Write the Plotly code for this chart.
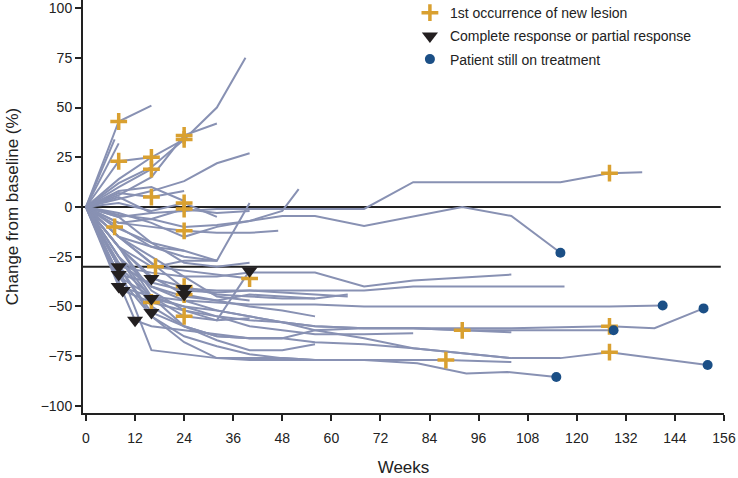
import plotly.graph_objects as go

# ---- patient trajectories: weeks and % change from baseline ----
p01_w = [0, 8, 16];                      p01_v = [0, 43, 51]
p02_w = [0, 8, 16, 24, 32, 39];          p02_v = [0, 12, 20, 34, 50, 75]
p03_w = [0, 8, 16, 24, 32];              p03_v = [0, 6, 15, 36, 42]
p04_w = [0, 8, 16, 24, 32, 40];          p04_v = [0, 4, 8, 13, 22, 27]
p05_w = [0, 7];                          p05_v = [0, 34]
p06_w = [0, 8];                          p06_v = [0, 32]
p07_w = [0, 8, 16, 24];                  p07_v = [0, 23, 25, 34]
p08_w = [0, 8, 16];                      p08_v = [0, 14, 25]
p09_w = [0, 8, 16];                      p09_v = [0, 10, 19]
p10_w = [0, 8, 16, 24];                  p10_v = [0, 7, 5, 8]
p11_w = [0, 8, 16, 24, 32, 40];          p11_v = [0, -4, -6, -1, -3, -2]
p12_w = [0, 8, 16, 24, 32];              p12_v = [0, 2, -2, 2, -5]
p13_w = [0, 8, 16, 24, 32, 40, 47];      p13_v = [0, -8, -10, -12, -13, -13, -12]
p14_w = [0, 7, 16, 24];                  p14_v = [0, -10, -18, -22]
p15_w = [0, 8, 16, 24, 32, 40, 48, 56, 68, 80, 116, 128, 136]
p15_v = [0, -5, -3, -2, -1, -1, -1, -1, -1, 12.5, 12.5, 17, 17.5]
p16_w = [0, 8, 16, 24, 32, 40, 48, 56, 68, 92, 104, 116]
p16_v = [0, -8, -6, -10, -9, -7, -4.5, -4.5, -9.5, 0, -4.5, -23]
p17_w = [0, 8, 16, 24, 32, 40, 48, 52];  p17_v = [0, -3, -8, -15, -10, -7, -2, 9]
p18_w = [0, 8, 16, 24, 32, 40];          p18_v = [0, -10, -20, -22, -27, 2]
p19_w = [0, 8, 16, 24, 32];              p19_v = [0, -15, -20, -25, -27]
p20_w = [0, 8, 16, 24, 32, 40];          p20_v = [0, -5, -18, -28, -30, -28]
p21_w = [0, 8, 16, 24, 32, 40, 48, 56, 68, 80, 104]
p21_v = [0, -30, -33, -35, -35, -33, -33, -33, -40, -37, -34]
p22_w = [0, 8, 16, 24, 32, 40, 56, 68, 80, 104, 117]
p22_v = [0, -34, -38, -42, -43, -42, -42, -42, -40, -40, -40]
p23_w = [0, 8, 16, 24, 32, 40, 56, 68, 80, 104, 128, 141]
p23_v = [0, -40, -45, -47, -48, -49, -49, -50, -50, -50, -50, -49.5]
p24_w = [0, 9, 16, 24, 32, 40, 48, 56, 68, 80, 104, 128, 139, 151]
p24_v = [0, -42, -48, -52, -55, -57, -58, -60, -61, -61, -61, -60, -61, -51]
p25_w = [0, 12, 16, 24, 32, 40, 48, 56, 68, 80, 92, 104, 116, 129]
p25_v = [0, -57, -60, -62, -64, -66, -66, -62, -61, -61, -62, -62, -62, -62]
p26_w = [0, 8, 16, 24, 32, 40, 48, 56];  p26_v = [0, -20, -36, -40, -44, -45, -46, -46]
p27_w = [0, 8, 16, 24, 32, 40, 48, 56, 68, 80]
p27_v = [0, -25, -46, -50, -55, -60, -62, -64, -64, -63.5]
p28_w = [0, 8, 16, 24, 32, 40, 48, 56, 68, 80, 104, 116, 128, 152]
p28_v = [0, -30, -53, -60, -65, -66, -66, -68, -69, -71, -76, -76, -73, -79.5]
p29_w = [0, 8, 16, 24, 32, 40, 48, 56, 64]
p29_v = [0, -15, -28, -41, -42, -42, -43, -44, -45]
p30_w = [0, 8, 16, 24, 32, 40, 48, 56]; p30_v = [0, -20, -35, -44, -47, -50, -52, -55]
p31_w = [0, 8, 16, 24, 32, 40];          p31_v = [0, -20, -42, -52, -57, -32]
p32_w = [0, 8, 17, 24, 32];              p32_v = [0, -15, -30, -27, -27]
p33_w = [0, 8, 16, 24, 32, 40];          p33_v = [0, -20, -30, -32, -34, -36]
p34_w = [0, 8, 16, 24, 32, 40];          p34_v = [0, -30, -45, -55, -57, -56]
p35_w = [0, 8, 16, 24, 32, 40, 48, 56, 68, 80, 92, 104]
p35_v = [0, -35, -45, -50, -52, -55, -58, -60, -61, -61, -62, -63]
p36_w = [0, 8, 16, 24, 32, 40, 48, 56, 68, 80, 88, 104]
p36_v = [0, -30, -55, -65, -70, -74, -76, -77, -77, -77, -77, -78]
p37_w = [0, 8, 16, 24, 32, 40, 48, 56, 68, 81, 93, 103, 115]
p37_v = [0, -35, -55, -68, -76, -77, -77, -77, -77, -78.6, -83.7, -83, -85.5]
p38_w = [0, 8, 16, 24, 32, 40, 48, 56, 64]
p38_v = [0, -25, -40, -45, -47, -44, -45, -46, -44]
p39_w = [0, 8, 16, 24, 32, 40, 48];      p39_v = [0, -20, -45, -60, -65, -66, -66]
p40_w = [0, 8, 16, 24, 32, 40, 48, 56, 64]
p40_v = [0, -30, -72, -74, -76, -76, -76, -77, -77]
p41_w = [0, 8, 16, 24, 32, 40, 48, 56];  p41_v = [0, -25, -50, -60, -67, -72, -72, -69]
p42_w = [0, 8, 16, 24, 32, 40, 48, 56, 68, 80, 104]
p42_v = [0, -28, -40, -47, -52, -55, -58, -62, -66, -71, -76]
p43_w = [0, 8, 16, 24, 32, 40];          p43_v = [0, -15, -25, -35, -45, -47]
p44_w = [0, 8, 16];                      p44_v = [0, 5, -3]
p45_w = [0, 8, 16, 24];                  p45_v = [0, 8, 10, 3]

patients = [
    (p01_w, p01_v), (p02_w, p02_v), (p03_w, p03_v), (p04_w, p04_v), (p05_w, p05_v),
    (p06_w, p06_v), (p07_w, p07_v), (p08_w, p08_v), (p09_w, p09_v), (p10_w, p10_v),
    (p11_w, p11_v), (p12_w, p12_v), (p13_w, p13_v), (p14_w, p14_v), (p15_w, p15_v),
    (p16_w, p16_v), (p17_w, p17_v), (p18_w, p18_v), (p19_w, p19_v), (p20_w, p20_v),
    (p21_w, p21_v), (p22_w, p22_v), (p23_w, p23_v), (p24_w, p24_v), (p25_w, p25_v),
    (p26_w, p26_v), (p27_w, p27_v), (p28_w, p28_v), (p29_w, p29_v), (p30_w, p30_v),
    (p31_w, p31_v), (p32_w, p32_v), (p33_w, p33_v), (p34_w, p34_v), (p35_w, p35_v),
    (p36_w, p36_v), (p37_w, p37_v), (p38_w, p38_v), (p39_w, p39_v), (p40_w, p40_v),
    (p41_w, p41_v), (p42_w, p42_v), (p43_w, p43_v), (p44_w, p44_v), (p45_w, p45_v),
]

# ---- event markers ----
lesion_weeks = [8, 24, 24, 8, 16, 16, 16, 24, 24, 24, 7, 128, 17, 40, 16, 24, 24, 24, 92, 88, 128, 128]
lesion_chg   = [43, 34, 36, 23, 25, 19, 5, -1, 2, -12, -10, 17, -30, -36, -48, -40, -44, -55, -62, -77, -60, -73]
response_weeks = [8, 8, 8, 9, 12, 16, 16, 16, 24, 24, 40]
response_chg   = [-30, -34, -40, -42, -57, -36, -46, -53, -41, -44, -32]
ontx_weeks = [116, 141, 151, 129, 152, 115]
ontx_chg   = [-23, -49.5, -51, -62, -79.5, -85.5]

x_ticks = list(range(0, 157, 12))
y_ticks = [-100, -75, -50, -25, 0, 25, 50, 75, 100]
ref_lines = [0, -30]

LINE_C = "#8891B3"
ORANGE = "#D9A030"
BLACK = "#231F20"
BLUE = "#1B4F86"
FONT = "Liberation Sans, Arial, sans-serif"

fig = go.Figure()
for w, v in patients:
    fig.add_trace(go.Scatter(x=w, y=v, mode="lines", line=dict(color=LINE_C, width=2),
                             showlegend=False, hoverinfo="skip"))

fig.add_trace(go.Scatter(x=lesion_weeks, y=lesion_chg, mode="markers", legendgroup="a",
                         marker=dict(symbol="cross-thin", size=12, line=dict(color=ORANGE, width=3.5)),
                         name="1st occurrence of new lesion"))
fig.add_trace(go.Scatter(x=response_weeks, y=response_chg, mode="markers", legendgroup="b",
                         marker=dict(symbol="triangle-down", size=14, color=BLACK),
                         name="Complete response or partial response"))
fig.add_trace(go.Scatter(x=ontx_weeks, y=ontx_chg, mode="markers", legendgroup="c",
                         marker=dict(symbol="circle", size=10, color=BLUE),
                         name="Patient still on treatment"))

for r in ref_lines:
    fig.add_shape(type="line", xref="paper", yref="y", x0=0, x1=0.995, y0=r, y1=r,
                  line=dict(color="#222222", width=2), layer="below")

fig.update_layout(
    width=738, height=478,
    margin=dict(l=83, r=14, t=0, b=65, autoexpand=False),
    paper_bgcolor="white", plot_bgcolor="white",
    font=dict(family=FONT, size=14, color="#222222"),
    legend=dict(x=0.51, y=1.007, xanchor="left", yanchor="top", bgcolor="rgba(0,0,0,0)",
                font=dict(size=14, family=FONT), traceorder="grouped", tracegroupgap=2,
                itemwidth=30),
    xaxis=dict(range=[-0.73, 156], tickmode="array", tickvals=x_ticks, showgrid=False,
               zeroline=False, showline=True, linecolor="#222222", linewidth=2,
               ticks="outside", ticklen=6, tickwidth=1.5, tickcolor="#222222",
               automargin=False, ticklabelstandoff=5,
               title=dict(text="Weeks", standoff=16), tickfont=dict(size=14)),
    yaxis=dict(range=[-103.6, 104.1], tickmode="array", tickvals=y_ticks, showgrid=False,
               zeroline=False, showline=True, linecolor="#222222", linewidth=2,
               ticks="outside", ticklen=6, tickwidth=1.5, tickcolor="#222222",
               automargin=False,
               title=dict(text="Change from baseline (%)", standoff=18), tickfont=dict(size=14)),
)

fig.write_html("out.html", config={"displayModeBar": False},
               post_script="document.body.style.margin='0';document.body.style.padding='0';")
